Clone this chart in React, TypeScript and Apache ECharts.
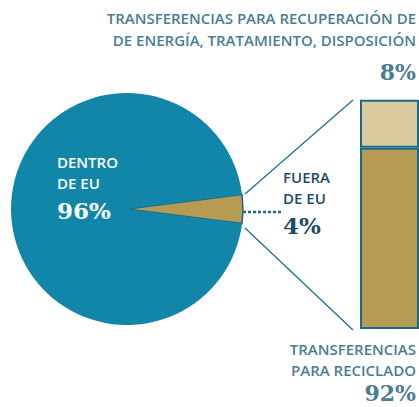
import React, { useEffect, useRef } from "react";
import * as echarts from "echarts";

const pieNames = ["FUERA\nDE EU", "DENTRO\nDE EU"];
const pieValues = [4, 96];
const barNames = ["TRANSFERENCIAS\nPARA RECICLADO", "TRANSFERENCIAS PARA RECUPERACIÓN DE\nDE ENERGÍA, TRATAMIENTO, DISPOSICIÓN"];
const barValues = [92, 8];

const BLUE = "#1186a8";
const GOLD = "#b89b52";
const LIGHT_GOLD = "#dccb9f";
const DARK = "#1a6a90";
const TITLE = "#4a7d95";
const NAVY = "#1c4b6b";
const SANS = "'Open Sans', 'Noto Sans', sans-serif";
const SERIF = "'DejaVu Serif', serif";

export default function App() {
  const ref = useRef<HTMLDivElement>(null);
  useEffect(() => {
    document.body.style.margin = "0";
    const chart = echarts.init(ref.current!, null, { renderer: "svg" });
    const halfAngle = (pieValues[0] / 100) * 180;
    const txt = (x: number, y: number, text: string, fill: string, font: string, align = "left") => ({
      type: "text",
      z: 100,
      x,
      y,
      style: { text, fill, font, align, verticalAlign: "middle" },
    });
    chart.setOption({
      animation: false,
      backgroundColor: "#ffffff",
      grid: { left: 360, width: 80, top: 132, bottom: 78, containLabel: false },
      xAxis: { type: "category", data: ["EU"], show: false },
      yAxis: { type: "value", min: 0, max: 100, show: false },
      series: [
        {
          type: "pie",
          center: [127, 209],
          radius: [0, 116],
          startAngle: halfAngle,
          clockwise: true,
          label: { show: false },
          labelLine: { show: false },
          emphasis: { disabled: true },
          data: [
            { name: pieNames[0], value: pieValues[0], itemStyle: { color: GOLD, borderColor: DARK, borderWidth: 1.5 } },
            { name: pieNames[1], value: pieValues[1], itemStyle: { color: BLUE, borderWidth: 0 } },
          ],
        },
        {
          type: "bar",
          name: barNames[0],
          stack: "t",
          barWidth: "100%",
          clip: false,
          data: [barValues[0]],
          itemStyle: { color: GOLD, borderColor: DARK, borderWidth: 2 },
        },
        {
          type: "bar",
          name: barNames[1],
          stack: "t",
          barWidth: "100%",
          barMinHeight: 48,
          clip: false,
          data: [barValues[1]],
          itemStyle: { color: LIGHT_GOLD, borderColor: DARK, borderWidth: 2 },
        },
      ],
      graphic: [
        { type: "line", z: 100, shape: { x1: 245, y1: 194, x2: 353, y2: 100 }, style: { stroke: DARK, lineWidth: 1.2 } },
        { type: "line", z: 100, shape: { x1: 245, y1: 228, x2: 353, y2: 330 }, style: { stroke: DARK, lineWidth: 1.2 } },
        { type: "line", z: 100, shape: { x1: 243, y1: 212, x2: 281, y2: 212 }, style: { stroke: DARK, lineWidth: 2.5, lineDash: [3, 2] } },
        txt(57, 162, "DENTRO", "#ffffff", `600 15px ${SANS}`),
        txt(57, 183, "DE EU", "#ffffff", `600 15px ${SANS}`),
        txt(57, 210, `${pieValues[1]}%`, "#ffffff", `bold 23px ${SERIF}`),
        txt(283, 177, "FUERA", NAVY, `600 15px ${SANS}`),
        txt(283, 198, "DE EU", NAVY, `600 15px ${SANS}`),
        txt(283, 225, `${pieValues[0]}%`, NAVY, `bold 23px ${SERIF}`),
        txt(416, 18, "TRANSFERENCIAS PARA RECUPERACIÓN DE", TITLE, `600 15px ${SANS}`, "right"),
        txt(416, 40, "DE ENERGÍA, TRATAMIENTO, DISPOSICIÓN", TITLE, `600 15px ${SANS}`, "right"),
        txt(416, 72, `${barValues[1]}%`, TITLE, `bold 22px ${SERIF}`, "right"),
        txt(416, 349, "TRANSFERENCIAS", TITLE, `600 15px ${SANS}`, "right"),
        txt(416, 370, "PARA RECICLADO", TITLE, `600 15px ${SANS}`, "right"),
        txt(416, 393, `${barValues[0]}%`, TITLE, `bold 22px ${SERIF}`, "right"),
      ],
    });
    return () => chart.dispose();
  }, []);
  return <div ref={ref} style={{ position: "fixed", left: 0, top: 0, width: 419, height: 407 }} />;
}
